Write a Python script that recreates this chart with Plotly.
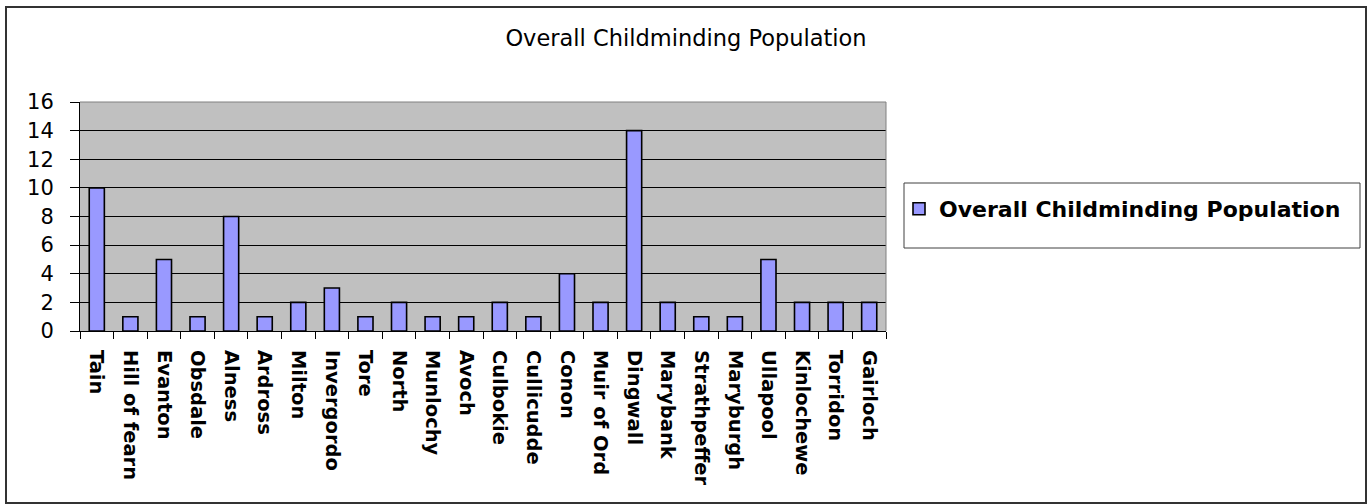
import plotly.graph_objects as go

# Childminder counts by locality
localities = [
    "Tain", "Hill of fearn", "Evanton", "Obsdale", "Alness", "Ardross",
    "Milton", "Invergordo", "Tore", "North", "Munlochy", "Avoch",
    "Culbokie", "Cullicudde", "Conon", "Muir of Ord", "Dingwall",
    "Marybank", "Strathpeffer", "Maryburgh", "Ullapool", "Kinlochewe",
    "Torridon", "Gairloch",
]
childminders = [10, 1, 5, 1, 8, 1, 2, 3, 1, 2, 1, 1, 2, 1, 4, 2, 14, 2, 1, 1, 5, 2, 2, 2]
y_ticks = [0, 2, 4, 6, 8, 10, 12, 14, 16]
series_name = "Overall Childminding Population"

W, H = 1371, 504
L, R, T, B = 80, 886, 102, 331          # plot area in pixels
pw, ph = R - L, B - T


def px_x(x):
    return (x - L) / pw


def px_y(y):
    return (B - y) / ph


FONT = "DejaVu Sans"

fig = go.Figure(
    go.Bar(
        x=localities,
        y=childminders,
        name=series_name,
        marker=dict(color="#9999FF", line=dict(color="#000000", width=1.6)),
        showlegend=True,
    )
)

fig.update_layout(
    width=W,
    height=H,
    margin=dict(l=L, r=W - R, t=T, b=H - B),
    paper_bgcolor="#FFFFFF",
    plot_bgcolor="#C0C0C0",
    bargap=0.55,
    font=dict(family=FONT, color="#000000"),
    title=dict(
        text=series_name,
        x=686 / W,
        xanchor="center",
        xref="container",
        y=1 - 38 / H,
        yanchor="middle",
        yref="container",
        font=dict(family=FONT, size=22.5, color="#000000"),
    ),
    legend=dict(
        x=px_x(899),
        y=px_y(188),
        xanchor="left",
        yanchor="top",
        bgcolor="rgba(0,0,0,0)",
        borderwidth=0,
        font=dict(family=FONT, size=22, color="#000000", weight="bold"),
    ),
    shapes=[
        # outer chart frame
        dict(type="rect", xref="paper", yref="paper",
             x0=px_x(6), x1=px_x(1366), y0=px_y(503), y1=px_y(7),
             line=dict(color="#333333", width=2), layer="above"),
        # legend frame
        dict(type="rect", xref="paper", yref="paper",
             x0=px_x(904), x1=px_x(1360), y0=px_y(248), y1=px_y(183),
             line=dict(color="#404040", width=1), layer="above"),
        # grey top and right edges of the plot area
        dict(type="line", xref="paper", yref="paper",
             x0=0, x1=1, y0=1, y1=1,
             line=dict(color="#808080", width=1), layer="above"),
        dict(type="line", xref="paper", yref="paper",
             x0=1, x1=1, y0=0, y1=1,
             line=dict(color="#808080", width=1), layer="above"),
    ],
)

fig.update_xaxes(
    type="category",
    showgrid=False,
    showline=True,
    linecolor="#000000",
    linewidth=1,
    ticks="outside",
    tickson="boundaries",
    ticklen=7,
    tickcolor="#000000",
    tickangle=90,
    tickfont=dict(family=FONT, size=19.5, color="#000000", weight="bold"),
    ticklabelstandoff=14,
)

fig.update_yaxes(
    range=[0, 16],
    tickvals=y_ticks,
    showgrid=True,
    gridcolor="#000000",
    gridwidth=1,
    zeroline=False,
    showline=True,
    linecolor="#000000",
    linewidth=1,
    ticks="outside",
    ticklen=9,
    tickcolor="#000000",
    tickfont=dict(family=FONT, size=21, color="#000000"),
    ticklabelstandoff=12,
)

fig.write_html("out.html")
